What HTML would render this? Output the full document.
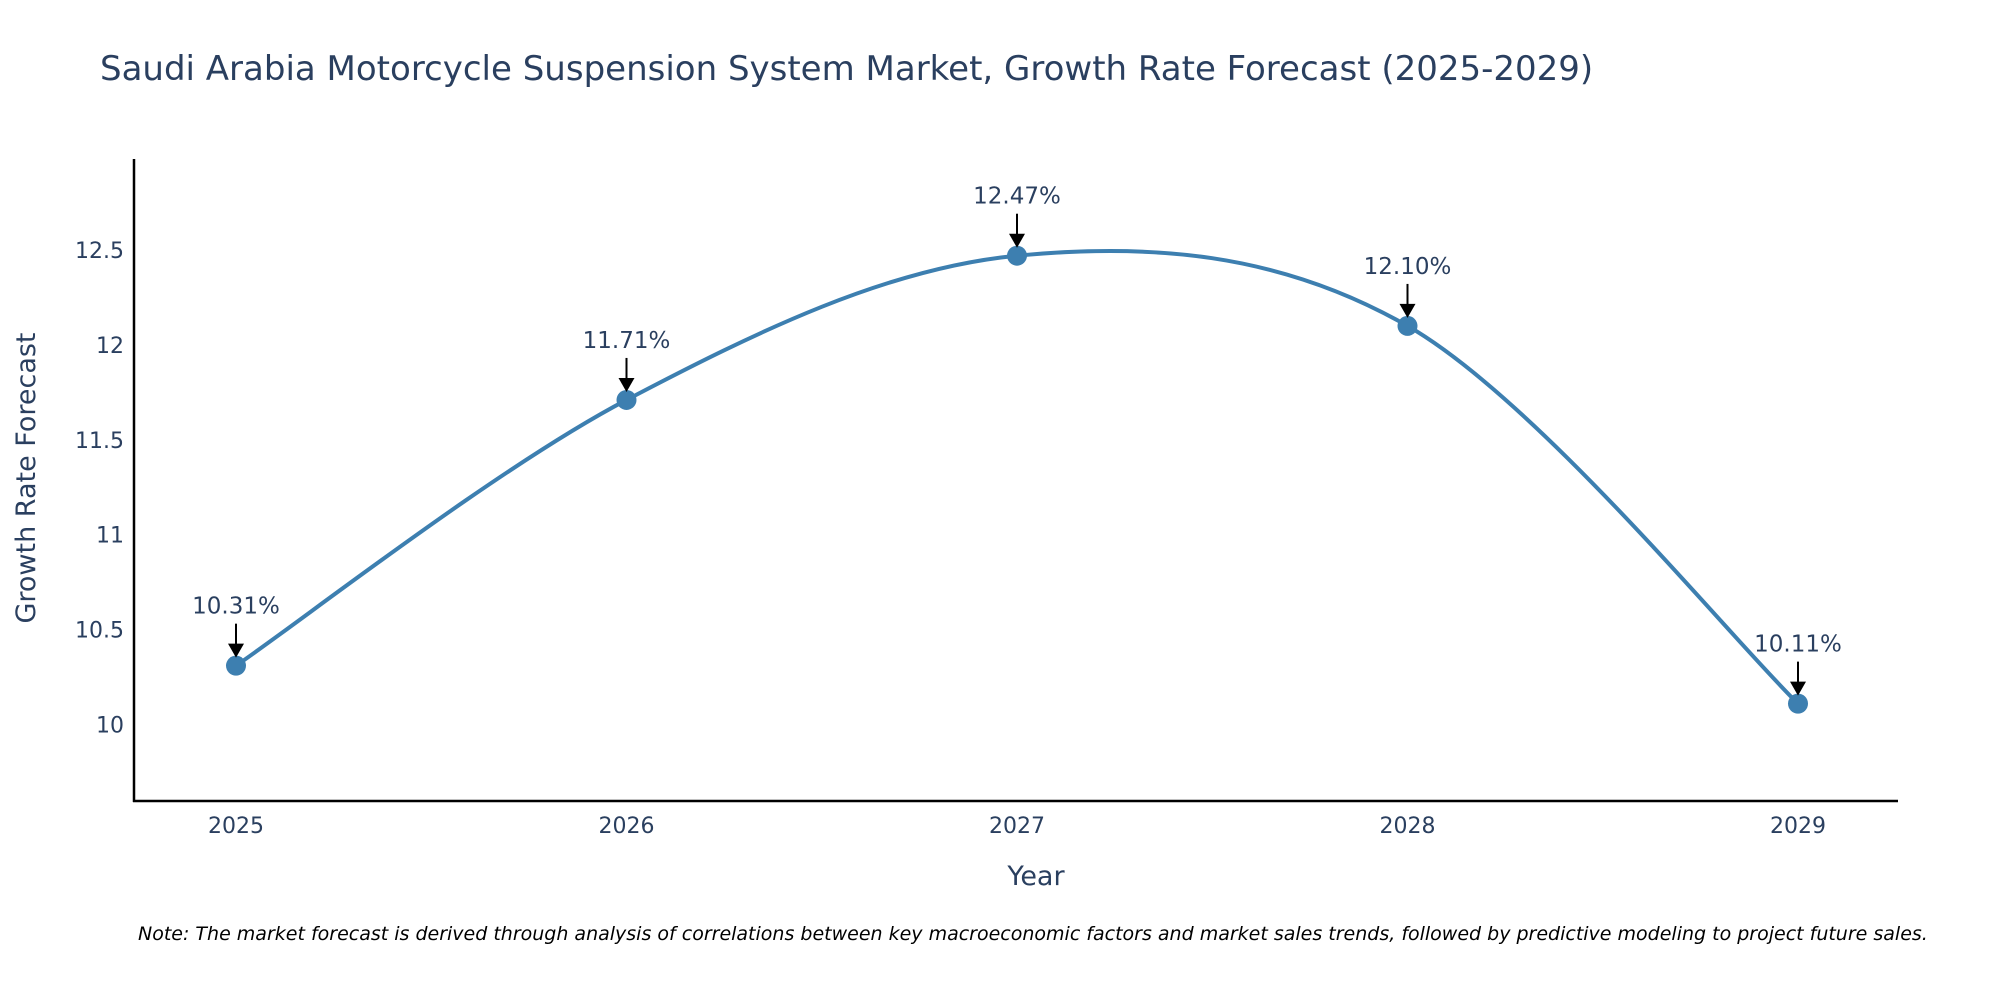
<!DOCTYPE html>
<html><head><meta charset="utf-8"><style>
body{margin:0;background:#fff;}
svg{display:block;font-family:"DejaVu Sans","Liberation Sans",Arial,sans-serif;}
</style></head><body>
<svg id="chart" width="2000" height="1000" viewBox="0 0 2000 1000">
<text x="100" y="80" font-size="34" fill="#2a3f5f">Saudi Arabia Motorcycle Suspension System Market, Growth Rate Forecast (2025-2029)</text>
<g id="yticks"></g>
<g id="xticks"></g>
<line x1="134" y1="159" x2="134" y2="802" stroke="#000" stroke-width="2.5"/>
<line x1="133" y1="801" x2="1898" y2="801" stroke="#000" stroke-width="2.5"/>
<path id="line" fill="none" stroke="#3d7fb0" stroke-width="4"/>
<g id="points"></g>
<g id="annots"></g>
<text x="1036" y="885" font-size="27" fill="#2a3f5f" text-anchor="middle">Year</text>
<text transform="translate(35,478) rotate(-90)" font-size="27" fill="#2a3f5f" text-anchor="middle">Growth Rate Forecast</text>
<text x="138" y="940" font-size="19" font-style="italic" fill="#000">Note: The market forecast is derived through analysis of correlations between key macroeconomic factors and market sales trends, followed by predictive modeling to project future sales.</text>
</svg>
<script>
const years = [2025, 2026, 2027, 2028, 2029];
const rates = [10.31, 11.71, 12.47, 12.10, 10.11];
const labels = ["10.31%", "11.71%", "12.47%", "12.10%", "10.11%"];
const yTicks = [10, 10.5, 11, 11.5, 12, 12.5];
const yTickLabels = ["10", "10.5", "11", "11.5", "12", "12.5"];

const NS = "http://www.w3.org/2000/svg";
const xS = v => 236 + (v - 2025) * (1798 - 236) / 4;
const yS = v => 724.5 - (v - 10) * 189.8;
function mk(tag, attrs, parent){const e=document.createElementNS(NS,tag);for(const k in attrs)e.setAttribute(k,attrs[k]);parent.appendChild(e);return e;}

const yg=document.getElementById('yticks');
yTicks.forEach((t,i)=>{
  const e=mk('text',{x:124,y:yS(t)+8,'font-size':22,fill:'#2a3f5f','text-anchor':'end'},yg);
  
  
  e.textContent=yTickLabels[i];
});
const xg=document.getElementById('xticks');
years.forEach(y=>{
  const e=mk('text',{x:xS(y),y:833,'font-size':22,fill:'#2a3f5f','text-anchor':'middle'},xg);
  
  
  e.textContent=String(y);
});

const P=years.map((y,i)=>[xS(y),yS(rates[i])]);
let d=`M${P[0][0]},${P[0][1]}`;
const s=1/6;
for(let i=0;i<P.length-1;i++){
  const p0=P[Math.max(0,i-1)],p1=P[i],p2=P[i+1],p3=P[Math.min(P.length-1,i+2)];
  const c1=[p1[0]+(p2[0]-p0[0])*s,p1[1]+(p2[1]-p0[1])*s];
  const c2=[p2[0]-(p3[0]-p1[0])*s,p2[1]-(p3[1]-p1[1])*s];
  d+=` C${c1[0]},${c1[1]} ${c2[0]},${c2[1]} ${p2[0]},${p2[1]}`;
}
document.getElementById('line').setAttribute('d',d);

const pg=document.getElementById('points');
const ag=document.getElementById('annots');
P.forEach((p,i)=>{
  const c=mk('circle',{cx:p[0],cy:p[1],r:10,fill:'#3d7fb0'},pg);
  
  
  const l=mk('line',{x1:p[0],y1:p[1]-42,x2:p[0],y2:p[1]-20,stroke:'#000','stroke-width':2},ag);
  
  
  const h=mk('polygon',{points:`${p[0]-8},${p[1]-22} ${p[0]+8},${p[1]-22} ${p[0]},${p[1]-8}`,fill:'#000'},ag);
  
  
  const t=mk('text',{x:p[0],y:p[1]-52,'font-size':23,fill:'#2a3f5f','text-anchor':'middle'},ag);
  
  
  t.textContent=labels[i];
});
</script>
</body></html>
